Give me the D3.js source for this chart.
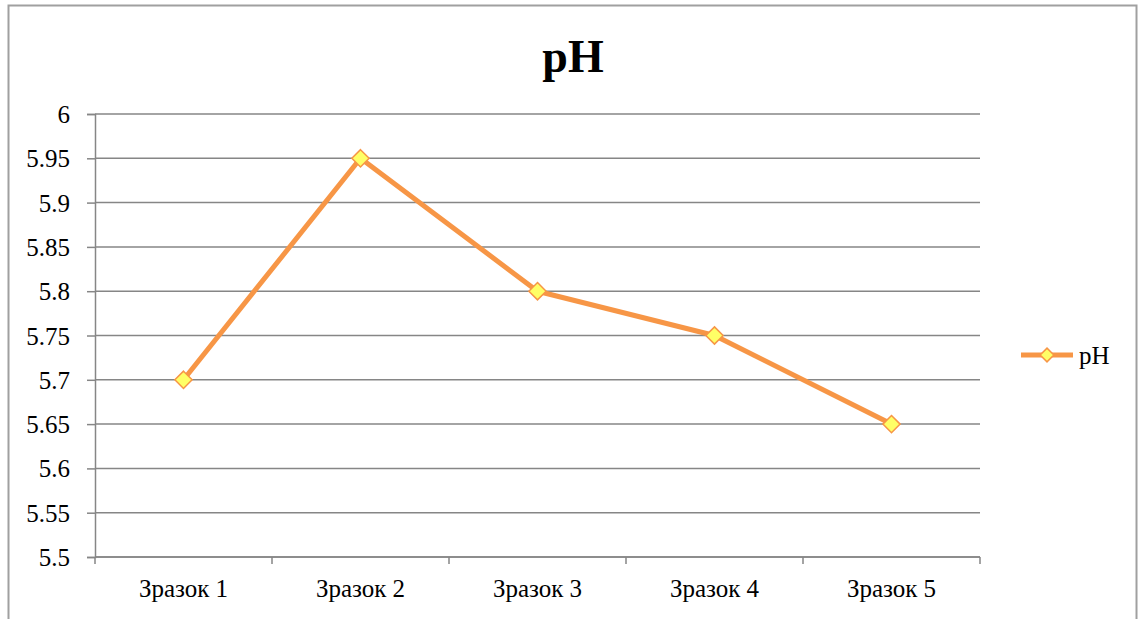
<!DOCTYPE html>
<html>
<head>
<meta charset="utf-8">
<script src="https://cdn.jsdelivr.net/npm/d3@7"></script>
<style>
  html, body { margin: 0; padding: 0; background: #fff; }
  svg { display: block; }
</style>
</head>
<body>
<svg id="chart" width="1141" height="619"></svg>
<script>
// Samples and measured pH
const categories = ["Зразок 1", "Зразок 2", "Зразок 3", "Зразок 4", "Зразок 5"];
const phValues = [5.7, 5.95, 5.8, 5.75, 5.65];
const yTicks = [5.5, 5.55, 5.6, 5.65, 5.7, 5.75, 5.8, 5.85, 5.9, 5.95, 6];
const seriesName = "pH";
const chartTitle = "pH";

const SERIF = '"Liberation Serif"';
const plot = { left: 95, right: 980, top: 114, bottom: 557 };
const gridColor = "#868686";
const lineColor = "#F79646";
const markerFill = "#FFFF66";

const svg = d3.select("#chart");

// outer chart frame
svg.append("rect")
  .attr("x", 8.5).attr("y", 5.5)
  .attr("width", 1128).attr("height", 640)
  .attr("fill", "#fff")
  .attr("stroke", "#a0a0a0")
  .attr("stroke-width", 2);

const x = d3.scaleBand().domain(categories).range([plot.left, plot.right]).padding(0);
const y = d3.scaleLinear().domain([5.5, 6]).range([plot.bottom, plot.top]);

// horizontal gridlines
svg.append("g")
  .selectAll("line")
  .data(yTicks)
  .join("line")
  .attr("x1", plot.left).attr("x2", plot.right)
  .attr("y1", d => y(d)).attr("y2", d => y(d))
  .attr("stroke", gridColor).attr("stroke-width", 1.5);

// y axis
const yAxis = svg.append("g")
  .attr("transform", `translate(${plot.left},0)`)
  .call(d3.axisLeft(y).tickValues(yTicks).tickSize(8).tickPadding(17).tickFormat(d => String(d)));
yAxis.attr("font-family", null).attr("font-size", null);
yAxis.select(".domain").attr("stroke", gridColor).attr("stroke-width", 1.5);
yAxis.selectAll(".tick line").attr("stroke", gridColor).attr("stroke-width", 1.5);
yAxis.selectAll(".tick text")
  .attr("fill", "#000")
  .attr("dy", "0.34em")
  .style("font-family", '"Times New Roman"')
  .style("font-size", "25px");

// x axis with ticks at category boundaries
const xAxisG = svg.append("g").attr("transform", `translate(0,${plot.bottom})`);
xAxisG.append("line")
  .attr("x1", plot.left).attr("x2", plot.right)
  .attr("stroke", gridColor).attr("stroke-width", 1.5);
const boundaries = categories.map(c => x(c)).concat([x(categories[categories.length - 1]) + x.bandwidth()]);
xAxisG.selectAll("line.tk")
  .data(boundaries)
  .join("line").attr("class", "tk")
  .attr("x1", d => d).attr("x2", d => d)
  .attr("y1", 0).attr("y2", 7)
  .attr("stroke", gridColor).attr("stroke-width", 1.5);
xAxisG.selectAll("text")
  .data(categories)
  .join("text")
  .attr("x", d => x(d) + x.bandwidth() / 2)
  .attr("y", 40)
  .attr("text-anchor", "middle")
  .style("font-family", SERIF)
  .style("font-size", "25px")
  .text(d => d);

// series line
const pts = categories.map((c, i) => ({ c, v: phValues[i] }));
const line = d3.line().x(d => x(d.c) + x.bandwidth() / 2).y(d => y(d.v));
svg.append("path")
  .datum(pts)
  .attr("d", line)
  .attr("fill", "none")
  .attr("stroke", lineColor)
  .attr("stroke-width", 5)
  .attr("stroke-linejoin", "round");

// diamond markers
const diamond = d3.symbol().type(d3.symbolDiamond2).size(190);
svg.append("g")
  .selectAll("path")
  .data(pts)
  .join("path")
  .attr("transform", d => `translate(${x(d.c) + x.bandwidth() / 2},${y(d.v)})`)
  .attr("d", diamond)
  .attr("fill", markerFill)
  .attr("stroke", lineColor)
  .attr("stroke-width", 1.5);

// title
svg.append("text")
  .attr("x", 573).attr("y", 72)
  .attr("text-anchor", "middle")
  .style("font-family", "Tinos")
  .style("font-size", "46px")
  .style("font-weight", "bold")
  .text(chartTitle);

// legend
const lg = svg.append("g").attr("transform", "translate(1021,355)");
lg.append("line").attr("x1", 0).attr("x2", 52).attr("y1", 0).attr("y2", 0)
  .attr("stroke", lineColor).attr("stroke-width", 5);
lg.append("path").attr("transform", "translate(26,0)")
  .attr("d", d3.symbol().type(d3.symbolDiamond2).size(120))
  .attr("fill", markerFill).attr("stroke", lineColor).attr("stroke-width", 1.5);
lg.append("text").attr("x", 58).attr("y", 9)
  .style("font-family", "serif")
  .style("font-size", "25px")
  .text(seriesName);
</script>
</body>
</html>
